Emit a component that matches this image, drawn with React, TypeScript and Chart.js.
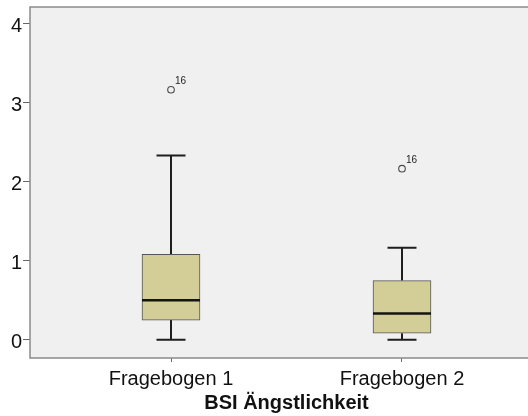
import React, { useEffect, useRef } from "react";
import { Chart, registerables } from "chart.js";

Chart.register(...registerables);

// Box plot statistics for the BSI anxiety scale, one entry per questionnaire
const categories = ["Fragebogen 1", "Fragebogen 2"];
const whiskerLow = [0, 0];
const q1 = [0.25, 0.083];
const median = [0.5, 0.333];
const q3 = [1.083, 0.75];
const whiskerHigh = [2.333, 1.167];
const outlierValues = [3.167, 2.167];
const outlierLabels = ["16", "16"];
const yTicks = [0, 1, 2, 3, 4];
const axisTitle = "BSI Ängstlichkeit";

const FONT = "'Liberation Sans', Arial, Helvetica, sans-serif";
const BOX_FILL = "rgb(211,206,151)";
const FRAME = "#8a8a8a";
const INK = "#1e1e1e";

const boxDecor = {
  id: "boxDecor",
  beforeDraw(chart: any) {
    const { ctx, chartArea } = chart;
    ctx.save();
    ctx.fillStyle = "#f0f0f0";
    ctx.fillRect(chartArea.left, chartArea.top, chartArea.right - chartArea.left, chartArea.bottom - chartArea.top);
    ctx.restore();
  },
  beforeDatasetsDraw(chart: any) {
    // whiskers and caps, drawn under the boxes
    const { ctx } = chart;
    const xs = chart.scales.x;
    const ys = chart.scales.y;
    ctx.save();
    ctx.strokeStyle = INK;
    ctx.lineWidth = 2;
    categories.forEach((_, i) => {
      const cx = Math.round(xs.getPixelForValue(i + 1));
      const capHalf = 14.5;
      const lo = ys.getPixelForValue(whiskerLow[i]);
      const hi = ys.getPixelForValue(whiskerHigh[i]);
      const b1 = ys.getPixelForValue(q1[i]);
      const b3 = ys.getPixelForValue(q3[i]);
      ctx.beginPath();
      ctx.moveTo(cx, hi);
      ctx.lineTo(cx, b3);
      ctx.moveTo(cx, b1);
      ctx.lineTo(cx, lo);
      ctx.moveTo(cx - capHalf, hi);
      ctx.lineTo(cx + capHalf, hi);
      ctx.moveTo(cx - capHalf, lo);
      ctx.lineTo(cx + capHalf, lo);
      ctx.stroke();
    });
    ctx.restore();
  },
  afterDatasetsDraw(chart: any) {
    const { ctx, chartArea } = chart;
    const xs = chart.scales.x;
    const ys = chart.scales.y;
    ctx.save();
    // medians
    ctx.strokeStyle = "#141414";
    ctx.lineWidth = 2.5;
    categories.forEach((_, i) => {
      const cx = xs.getPixelForValue(i + 1);
      const m = ys.getPixelForValue(median[i]);
      ctx.beginPath();
      ctx.moveTo(cx - 29, m);
      ctx.lineTo(cx + 29, m);
      ctx.stroke();
    });
    // outlier case numbers
    ctx.fillStyle = INK;
    ctx.font = `10px ${FONT}`;
    ctx.textAlign = "left";
    ctx.textBaseline = "alphabetic";
    outlierValues.forEach((v, i) => {
      const px = xs.getPixelForValue(i + 1);
      const py = ys.getPixelForValue(v);
      ctx.fillText(outlierLabels[i], px + 4, py - 6);
    });
    // plot frame
    ctx.strokeStyle = FRAME;
    ctx.lineWidth = 1.5;
    ctx.beginPath();
    ctx.moveTo(chartArea.right + 2, chartArea.top);
    ctx.lineTo(chartArea.left, chartArea.top);
    ctx.lineTo(chartArea.left, chartArea.bottom);
    ctx.lineTo(chartArea.right + 2, chartArea.bottom);
    ctx.stroke();
    ctx.restore();
  },
};

export default function App() {
  const ref = useRef<HTMLCanvasElement | null>(null);

  useEffect(() => {
    if (!ref.current) return;
    const chart = new Chart(ref.current, {
      type: "bar",
      data: {
        datasets: [
          {
            type: "bar",
            data: categories.map((_, i) => ({ x: i + 1, y: [q1[i], q3[i]] })) as any,
            backgroundColor: BOX_FILL,
            borderColor: "#555555",
            borderWidth: 1,
            borderSkipped: false,
            barThickness: 58,
          },
          {
            type: "scatter",
            data: outlierValues.map((v, i) => ({ x: i + 1, y: v })),
            pointStyle: "circle",
            pointRadius: 3.3,
            pointBackgroundColor: "rgba(0,0,0,0)",
            pointBorderColor: "#4a4a4a",
            pointBorderWidth: 1.1,
          } as any,
        ],
      },
      options: {
        responsive: false,
        devicePixelRatio: 1,
        animation: false,
        layout: { autoPadding: false, padding: { top: 7, right: 0, left: 0, bottom: 0 } },
        plugins: {
          legend: { display: false },
          tooltip: { enabled: false },
        },
        scales: {
          x: {
            type: "linear",
            offset: false,
            min: 0.3896,
            max: 2.6104,
            afterBuildTicks: (s: any) => {
              s.ticks = categories.map((_, i) => ({ value: i + 1 }));
            },
            afterFit: (s: any) => {
              s.height = 58;
              s.paddingLeft = 0;
              s.paddingRight = 0;
            },
            ticks: {
              callback: (v: any) => categories[Number(v) - 1] ?? "",
              font: { family: FONT, size: 20 },
              color: "#111111",
              padding: 5,
              maxRotation: 0,
              autoSkip: false,
            },
            grid: { offset: false, drawOnChartArea: false, drawTicks: true, tickLength: 4, color: "#666666", lineWidth: 1 },
            border: { display: false },
            title: {
              display: true,
              text: axisTitle,
              font: { family: FONT, size: 20, weight: "bold" },
              color: "#111111",
              padding: { top: 0, bottom: 1 },
            },
          },
          y: {
            type: "linear",
            min: -0.23,
            max: 4.215,
            afterBuildTicks: (s: any) => {
              s.ticks = yTicks.map((v) => ({ value: v }));
            },
            afterFit: (s: any) => {
              s.width = 30;
              s.paddingTop = 0;
              s.paddingBottom = 0;
            },
            ticks: {
              font: { family: FONT, size: 20 },
              color: "#111111",
              padding: 1,
              labelOffset: 3,
            },
            grid: { drawOnChartArea: false, drawTicks: true, tickLength: 7, color: "#666666", lineWidth: 1 },
            border: { display: false },
          },
        },
      },
      plugins: [boxDecor],
    });
    return () => chart.destroy();
  }, []);

  return (
    <div style={{ position: "absolute", left: 0, top: 0, width: 528, height: 416, overflow: "hidden", background: "#ffffff" }}>
      <canvas ref={ref} width={543} height={416} style={{ width: 543, height: 416, display: "block" }} />
    </div>
  );
}
